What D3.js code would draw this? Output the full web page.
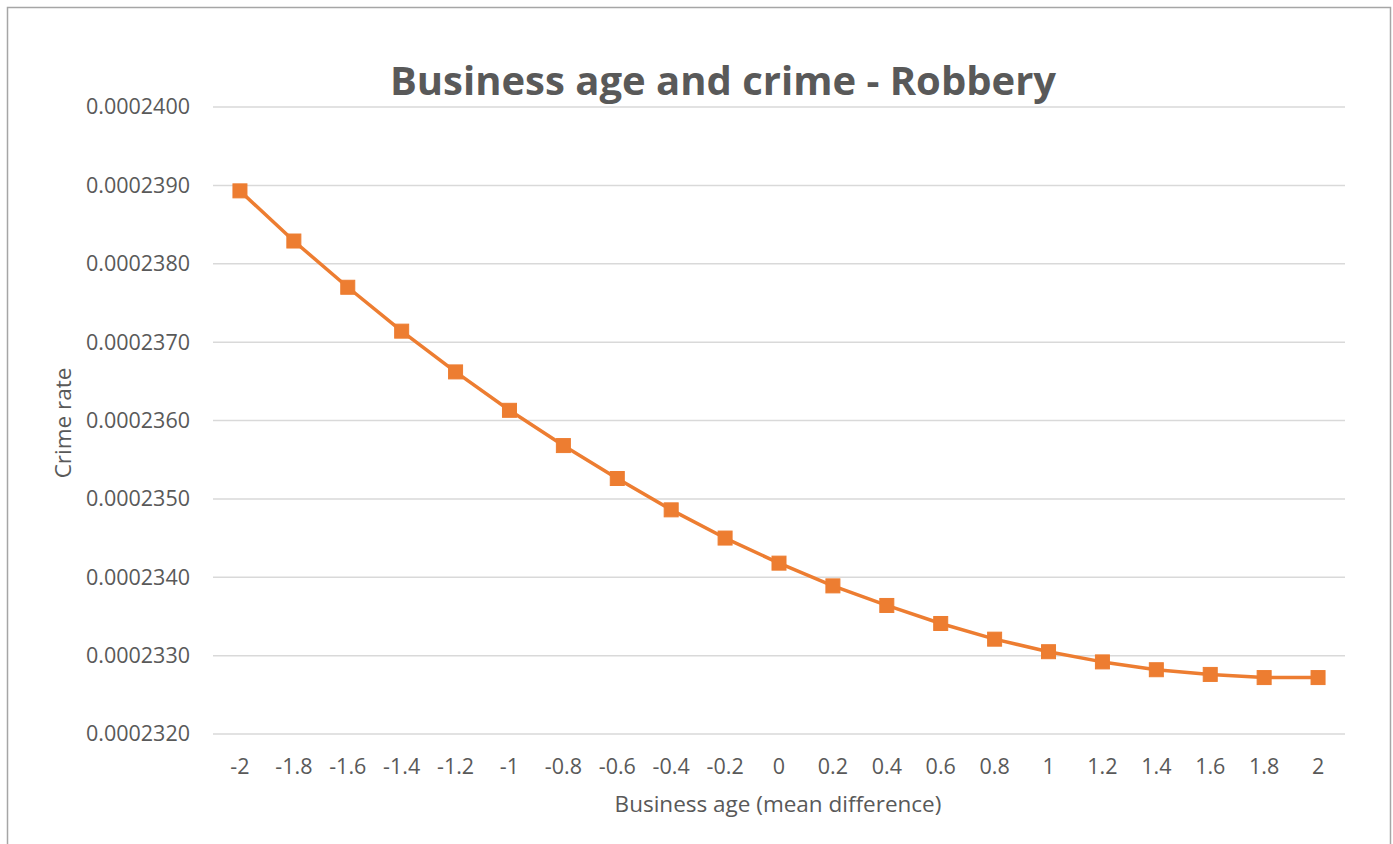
<!DOCTYPE html>
<html>
<head>
<meta charset="utf-8">
<script src="https://cdn.jsdelivr.net/npm/d3@7"></script>
<style>
  html, body { margin: 0; padding: 0; background: #fff; }
  svg { display: block; }
  text { font-family: "Open Sans", "Noto Sans", sans-serif; fill: #595959; }
</style>
</head>
<body>
<svg id="chart" width="1393" height="844"></svg>
<script>
// Business age (mean difference) categories
const ages = ["-2","-1.8","-1.6","-1.4","-1.2","-1","-0.8","-0.6","-0.4","-0.2","0",
              "0.2","0.4","0.6","0.8","1","1.2","1.4","1.6","1.8","2"];
// Predicted robbery crime rate for each category
const crimeRate = [0.00023893, 0.00023829, 0.00023770, 0.00023714, 0.00023662, 0.00023613,
                   0.00023568, 0.00023526, 0.00023486, 0.00023450, 0.00023418, 0.00023389,
                   0.00023364, 0.00023341, 0.00023321, 0.00023305, 0.00023292, 0.00023282,
                   0.00023276, 0.00023272, 0.00023272];
// Value axis ticks
const yTicks = [0.000232, 0.000233, 0.000234, 0.000235, 0.000236, 0.000237, 0.000238, 0.000239, 0.00024];

const svg = d3.select("#chart");
const plot = { left: 213, right: 1345, top: 107, bottom: 734 };
const FONT = '"Open Sans", "Noto Sans", sans-serif';
const TICK_SIZE = 21.5;

// chart area frame
svg.append("rect")
  .attr("x", 7.5).attr("y", 7.5)
  .attr("width", 1383).attr("height", 900)
  .attr("fill", "#fff").attr("stroke", "#a6a6a6").attr("stroke-width", 1.5);

const x = d3.scaleBand().domain(ages).range([plot.left, plot.right]);
const y = d3.scaleLinear().domain([0.000232, 0.00024]).range([plot.bottom, plot.top]);

// horizontal gridlines
svg.append("g").selectAll("line").data(yTicks).join("line")
  .attr("x1", plot.left).attr("x2", plot.right)
  .attr("y1", d => y(d)).attr("y2", d => y(d))
  .attr("stroke", "#d9d9d9").attr("stroke-width", 1.5);

// value axis labels
const yAxis = d3.axisLeft(y).tickValues(yTicks).tickFormat(d3.format(".7f")).tickSize(0).tickPadding(23);
const gy = svg.append("g").attr("transform", `translate(${plot.left},0)`).call(yAxis);
gy.select(".domain").remove();
gy.selectAll("text").attr("font-size", TICK_SIZE).style("fill", "#595959").style("font-family", FONT);

// category axis labels
const xAxis = d3.axisBottom(x).tickSize(0).tickPadding(25);
const gx = svg.append("g").attr("transform", `translate(0,${plot.bottom})`).call(xAxis);
gx.select(".domain").remove();
gx.selectAll("text").attr("font-size", TICK_SIZE).style("fill", "#595959").style("font-family", FONT);

// series line
const pts = ages.map((a, i) => [x(a) + x.bandwidth() / 2, y(crimeRate[i])]);
svg.append("path")
  .attr("d", d3.line()(pts))
  .attr("fill", "none").attr("stroke", "#ED7D31").attr("stroke-width", 3.5)
  .attr("stroke-linejoin", "round");

// square markers
const m = 14;
svg.append("g").selectAll("rect").data(pts).join("rect")
  .attr("x", d => d[0] - m / 2).attr("y", d => d[1] - m / 2)
  .attr("width", m).attr("height", m)
  .attr("fill", "#ED7D31").attr("stroke", "#ED7D31").attr("stroke-width", 1);

// titles
svg.append("text")
  .attr("x", 723).attr("y", 95).attr("text-anchor", "middle")
  .attr("font-size", 40).attr("font-weight", "bold")
  .text("Business age and crime - Robbery");

svg.append("text")
  .attr("transform", "translate(71,423) rotate(-90)")
  .attr("text-anchor", "middle").attr("font-size", 22.5)
  .text("Crime rate");

svg.append("text")
  .attr("x", 778).attr("y", 812).attr("text-anchor", "middle")
  .attr("font-size", 22.5)
  .text("Business age (mean difference)");
</script>
</body>
</html>
